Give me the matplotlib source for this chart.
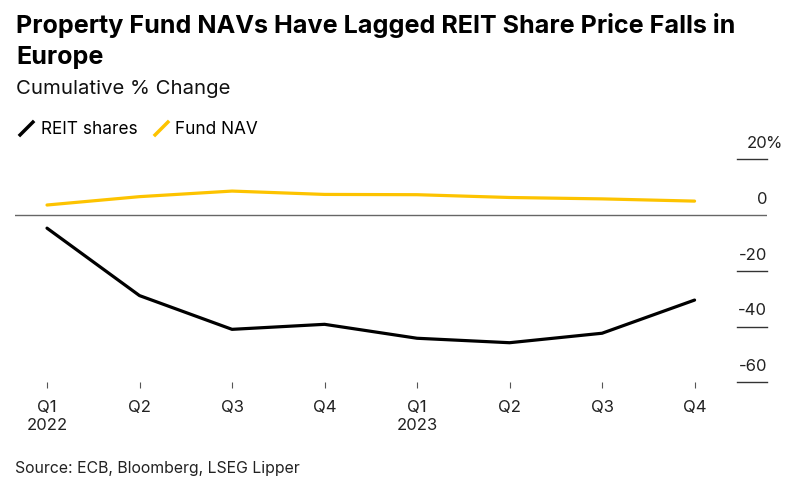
import matplotlib
matplotlib.use("Agg")
import matplotlib.pyplot as plt
from matplotlib.lines import Line2D
from matplotlib.transforms import blended_transform_factory, offset_copy

plt.rcParams['font.family'] = ['Inter', 'DejaVu Sans']

# ---- DATA ----
quarters = ["Q1\n2022", "Q2", "Q3", "Q4", "Q1\n2023", "Q2", "Q3", "Q4"]
reit_shares = [-4.7, -28.9, -41.0, -39.2, -44.2, -45.8, -42.4, -30.5]
fund_nav = [3.6, 6.6, 8.6, 7.4, 7.3, 6.3, 5.8, 5.0]
y_ticks = [20, 0, -20, -40, -60]
y_labels = ["20", "0", "-20", "-40", "-60"]

YELLOW = "#FDC300"
W, H = 800, 504

fig = plt.figure(figsize=(W / 100, H / 100), dpi=100)
# axes box in pixels: left 15, right 767, top 159.3 (20%), bottom 382.3 (-60)
ax = fig.add_axes([15 / W, (H - 382.3) / H, (767 - 15) / W, (382.3 - 159.3) / H])

x = list(range(len(quarters)))
ax.plot(x, reit_shares, color="black", lw=2.3, solid_capstyle="round", zorder=3)
ax.plot(x, fund_nav, color=YELLOW, lw=2.3, solid_capstyle="round", zorder=3)

ax.set_xlim(-0.346, 7.783)
ax.set_ylim(-60, 20)
ax.axhline(0, color="#666666", lw=1.0, zorder=2)

for s in ax.spines.values():
    s.set_visible(False)

# x axis: small ticks below the plot
ax.set_xticks(x)
ax.set_xticklabels(quarters, fontsize=12, color="#222222", linespacing=1.2)
ax.tick_params(axis="x", direction="out", length=4, width=0.8, color="#555555", pad=9)

# y axis: short gridlines on the right with labels sitting on top
ax.set_yticks([])
trans = blended_transform_factory(ax.transAxes, ax.transData)
lab_trans = offset_copy(trans, fig=fig, x=0, y=8, units="points")
for v, lab in zip(y_ticks, y_labels):
    if v != 0:
        ax.plot([0.96, 1.0], [v, v], transform=trans, color="#333333", lw=1.0, clip_on=False)
    ax.text(1.0, v, lab, transform=lab_trans, ha="right", va="baseline",
            fontsize=12, color="#222222")
ax.text(1.0, y_ticks[0], "%", transform=offset_copy(trans, fig=fig, x=-1, y=8, units="points"),
        ha="left", va="baseline", fontsize=12, color="#222222")

# titles
fig.text(16 / W, 1 - 33 / H, "Property Fund NAVs Have Lagged REIT Share Price Falls in",
         fontsize=18.1, fontweight="bold", va="baseline", ha="left")
fig.text(16 / W, 1 - 64 / H, "Europe", fontsize=18.1, fontweight="bold", va="baseline", ha="left")
fig.text(16 / W, 1 - 94.5 / H, "Cumulative % Change", fontsize=14.6, va="baseline", ha="left",
         color="#111111")

# legend with slanted strokes
slash = [(-1, -1), (1, 1)]
handles = [
    Line2D([], [], color="black", linestyle="none", marker=slash, markersize=11, markeredgewidth=2.5),
    Line2D([], [], color=YELLOW, linestyle="none", marker=slash, markersize=11, markeredgewidth=2.5),
]
fig.legend(handles, ["REIT shares", "Fund NAV"], loc="upper left",
           bbox_to_anchor=(2 / W, 1 - 106 / H), ncol=2, frameon=False, fontsize=12.4,
           handlelength=1.0, handletextpad=0.35, columnspacing=0.85)

fig.text(15 / W, 1 - 473 / H, "Source: ECB, Bloomberg, LSEG Lipper", fontsize=11.4,
         va="baseline", ha="left", color="#222222")

fig.savefig("out.png", dpi=100)
